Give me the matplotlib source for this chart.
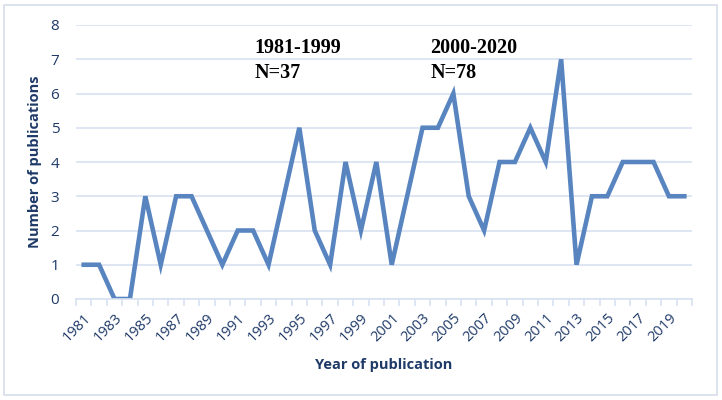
import matplotlib
matplotlib.use("Agg")
import matplotlib.pyplot as plt
from matplotlib.patches import Rectangle

years = list(range(1981, 2021))
counts = [1, 1, 0, 0, 3, 1, 3, 3, 2, 1, 2, 2, 1, 3, 5, 2, 1, 4, 2,
          4, 1, 3, 5, 5, 6, 3, 2, 4, 4, 5, 4, 7, 1, 3, 3, 4, 4, 4, 3, 3]
tick_labels = [str(y) for y in years[::2]]
annotations = ["1981-1999\nN=37", "2000-2020\nN=78"]
annotation_years = [1992.1, 2003.5]

line_color = "#5885C0"
text_color = "#1F3A68"
grid_color = "#D9E2F1"

fig = plt.figure(figsize=(7.22, 4.0), dpi=100)
fig.patches.append(Rectangle((0.005, 0.012), 0.988, 0.975, transform=fig.transFigure,
                             fill=False, edgecolor="#D6DEEA", linewidth=1.2))
ax = fig.add_axes([0.1053, 0.2525, 0.8532, 0.685])

x = list(range(len(years)))
ax.plot(x, counts, color=line_color, linewidth=3.3, solid_joinstyle="miter")

ax.set_xlim(-0.5, len(years) - 0.5)
ax.set_ylim(0, 8)
ax.set_yticks(range(0, 9))
ax.yaxis.grid(True, color=grid_color, linewidth=1.2)
ax.set_axisbelow(True)
for s in ["top", "right", "left"]:
    ax.spines[s].set_visible(False)
ax.spines["bottom"].set_color(grid_color)
ax.spines["bottom"].set_linewidth(1.2)

ax.set_xticks(x[::2])
ax.set_xticklabels(tick_labels, rotation=45, ha="right", rotation_mode="anchor",
                   fontsize=10.5, color=text_color, family="Open Sans")
ax.set_xticks([i - 0.5 for i in range(len(years) + 1)], minor=True)
ax.tick_params(axis="x", which="major", length=0, pad=8)
ax.tick_params(axis="x", which="minor", length=5, color=grid_color, width=1.2)
ax.tick_params(axis="y", length=0, pad=12)
for lbl in ax.get_yticklabels():
    lbl.set_fontsize(11)
    lbl.set_color(text_color)
    lbl.set_family("Open Sans")

ax.set_ylabel("Number of publications", fontsize=10.5, fontweight="bold",
              color=text_color, family="Open Sans", labelpad=6)
ax.set_xlabel("Year of publication", fontsize=10.5, fontweight="bold",
              color=text_color, family="Open Sans", labelpad=10)

for txt, yr in zip(annotations, annotation_years):
    ax.text(yr - years[0], 7.62, txt, fontsize=14.5,
            fontweight="bold", family="Liberation Serif", va="top", ha="left",
            linespacing=1.3)

fig.savefig("out.png", dpi=100)
